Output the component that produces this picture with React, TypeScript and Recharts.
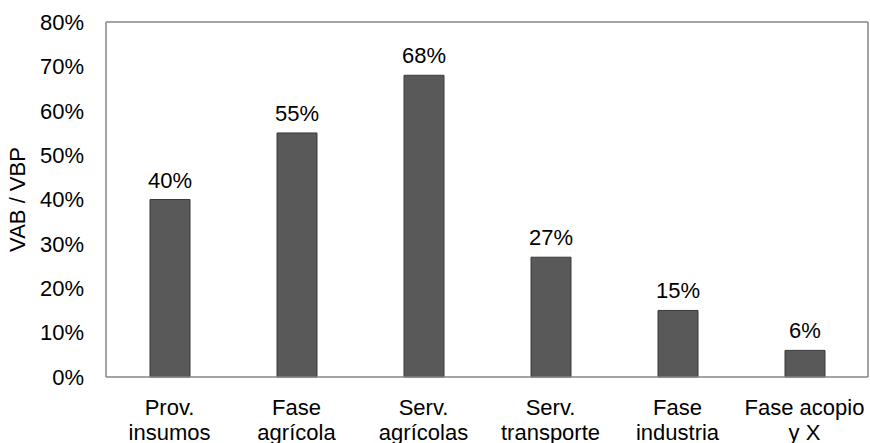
import { BarChart, Bar, XAxis, YAxis, LabelList, CartesianGrid } from 'recharts'

const categories = ['Prov.\ninsumos', 'Fase\nagrícola', 'Serv.\nagrícolas', 'Serv.\ntransporte', 'Fase\nindustria', 'Fase acopio\ny X']
const ratios = [40, 55, 68, 27, 15, 6]
const yTicks = [0, 10, 20, 30, 40, 50, 60, 70, 80]

const data = categories.map((name, i) => ({ name, value: ratios[i] }))

const FONT = 'Liberation Sans, Arial, sans-serif'
const AXIS = '#868686'

const CatTick = ({ x, y, payload }: any) => {
  const lines = String(payload.value).split('\n')
  return (
    <text x={x} y={y} textAnchor="middle" fill="#000" fontSize={22} fontFamily={FONT}>
      {lines.map((l, i) => (
        <tspan key={i} x={x} dy={i === 0 ? 30 : 25}>{l}</tspan>
      ))}
    </text>
  )
}

const YTitle = ({ viewBox }: any) => {
  const cy = viewBox.y + viewBox.height / 2
  return (
    <text x={25} y={cy} transform={`rotate(-90, 25, ${cy})`} textAnchor="middle"
      fontSize={22} fontFamily={FONT} fill="#000">
      VAB / VBP
    </text>
  )
}

export default function App() {
  return (
    <div style={{ position: 'absolute', left: 0, top: 0, width: 870, height: 443, background: '#fff' }}>
      <BarChart width={870} height={443} data={data}
        margin={{ top: 22, right: 2, bottom: 0, left: 0 }}>
        <CartesianGrid stroke={AXIS} strokeWidth={1.5}
          horizontalCoordinatesGenerator={(p: any) => [p.offset.top]}
          verticalCoordinatesGenerator={(p: any) => [p.offset.left + p.offset.width]} />
        <XAxis dataKey="name" tick={<CatTick />} tickLine={false} interval={0}
          axisLine={{ stroke: AXIS, strokeWidth: 1.5 }} height={66} />
        <YAxis domain={[0, 80]} ticks={yTicks} width={106} tickLine={false}
          tickMargin={16} axisLine={{ stroke: AXIS, strokeWidth: 1.5 }}
          tickFormatter={(v: number) => `${v}%`}
          tick={{ fill: '#000', fontSize: 22, fontFamily: FONT }}
          label={{ content: <YTitle /> }} />
        <Bar dataKey="value" fill="#595959" stroke="#3a3a3a" strokeWidth={1}
          barSize={40} isAnimationActive={false}>
          <LabelList dataKey="value" position="top" offset={12}
            formatter={(v: any) => `${v}%`}
            style={{ fill: '#000', fontSize: 22, fontFamily: FONT }} />
        </Bar>
      </BarChart>
    </div>
  )
}
